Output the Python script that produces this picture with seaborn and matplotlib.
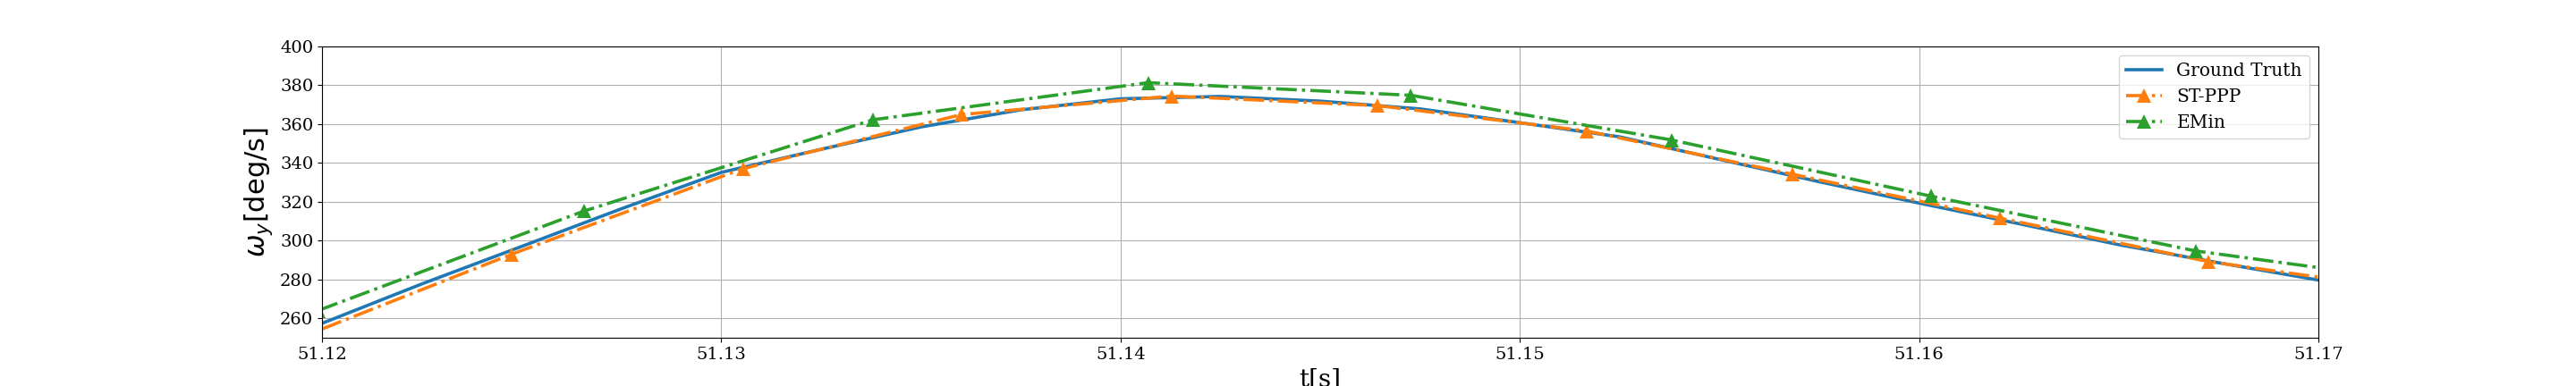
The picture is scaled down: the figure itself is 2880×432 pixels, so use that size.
import matplotlib
matplotlib.use('Agg')
import matplotlib.pyplot as plt
import seaborn as sns

# ground truth
t_gt = [51.1200, 51.1225, 51.1250, 51.1275, 51.1300, 51.1325, 51.1350, 51.1375,
        51.1400, 51.1425, 51.1450, 51.1475, 51.1500, 51.1525, 51.1550, 51.1575,
        51.1600, 51.1625, 51.1650, 51.1675, 51.1700]
w_gt = [257.4, 277.7, 297.0, 316.4, 335.1, 347.0, 358.5, 367.3,
        373.0, 374.2, 371.8, 367.8, 360.7, 353.4, 341.8, 330.3,
        319.3, 308.7, 297.9, 288.6, 279.7]

# ST-PPP estimates
t_stppp = [51.1192, 51.12475, 51.13054, 51.13602, 51.14129, 51.14643,
           51.15168, 51.15682, 51.16202, 51.16725, 51.17248]
w_stppp = [248.0, 293.0, 337.0, 364.9, 374.4, 369.5,
           356.4, 334.2, 311.6, 289.2, 274.0]

# EMin estimates
t_emin = [51.1199, 51.12656, 51.1338, 51.14069, 51.14727, 51.1538,
          51.16029, 51.16692, 51.17359]
w_emin = [264.0, 315.2, 362.2, 381.3, 374.8, 351.8,
          322.9, 294.7, 276.1]

xticks = [51.12, 51.13, 51.14, 51.15, 51.16, 51.17]
xtick_labels = ['51.12', '51.13', '51.14', '51.15', '51.16', '51.17']
yticks = [260, 280, 300, 320, 340, 360, 380, 400]

plt.rcParams['font.family'] = 'serif'

fig = plt.figure(figsize=(28.8, 4.32), dpi=100)
ax = fig.add_subplot(111)
fig.subplots_adjust(left=0.125, right=0.9, bottom=0.125, top=0.88)

sns.lineplot(x=t_gt, y=w_gt, ax=ax, color='tab:blue', linewidth=2.6,
             label='Ground Truth', sort=False)
sns.lineplot(x=t_stppp, y=w_stppp, ax=ax, color='tab:orange', linewidth=2.6,
             linestyle='-.', marker='^', markersize=11, markeredgewidth=0,
             label='ST-PPP', sort=False)
sns.lineplot(x=t_emin, y=w_emin, ax=ax, color='tab:green', linewidth=2.6,
             linestyle='-.', marker='^', markersize=11, markeredgewidth=0,
             label='EMin', sort=False)

ax.set_xlim(51.12, 51.17)
ax.set_ylim(250, 400)
ax.set_xticks(xticks)
ax.set_xticklabels(xtick_labels)
ax.set_yticks(yticks)
ax.tick_params(labelsize=14)
ax.grid(True)
ax.set_xlabel('t[s]', fontsize=20)
ax.set_ylabel(r'$\omega_y\mathrm{[deg/s]}$', fontsize=22)
ax.legend(loc='upper right', fontsize=14.5)

fig.savefig('out.png', dpi=100)
